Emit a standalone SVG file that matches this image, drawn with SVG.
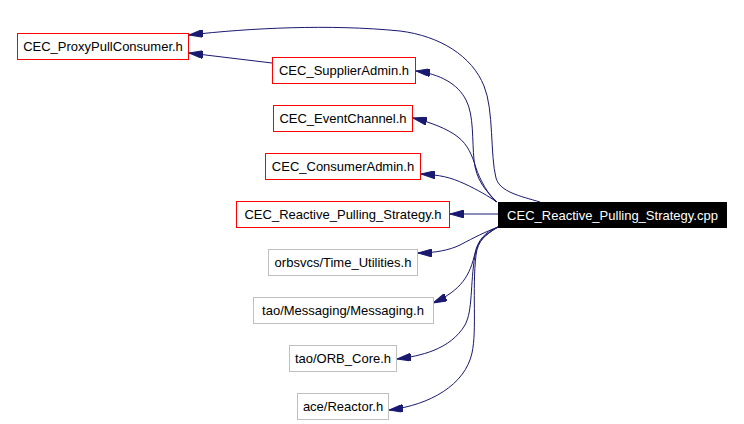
<svg xmlns="http://www.w3.org/2000/svg" width="744" height="424" viewBox="0 0 744 424">
<style>
.box{fill:#fff;stroke-width:1}
.red{stroke:#ff0000}
.grey{stroke:#bfbfbf}
.main{fill:#000;stroke:#000}
text{font-family:"Liberation Sans",Arial,sans-serif;font-size:13px;text-anchor:middle;fill:#000}
.wt{fill:#fff}
.e{fill:none;stroke:#191970;stroke-width:1;marker-end:url(#ah)}
</style>
<defs>
<marker id="ah" viewBox="0 0 14 8" refX="14" refY="4" markerWidth="14" markerHeight="8" markerUnits="userSpaceOnUse" orient="auto">
<path d="M0,0 L14,4 L0,8 z" fill="#191970" stroke="#191970"/>
</marker>
</defs>
<rect width="744" height="424" fill="#fff"/>
<g id="connectors">
<path class="e" d="M540,202 C520,196 500,192 496,178 C490,155 494,110 484,86 C472,56 440,36 400,31 C330,24 250,28 189,35"/>
<path class="e" d="M272,63 L189,53"/>
<path class="e" d="M497,202 C485,190 476,180 474,160 C472,140 474,115 466,100 C458,84 440,74 416,71"/>
<path class="e" d="M496,202 C488,194 480,180 476,168 C472,155 468,145 458,137 C448,129 430,122 413,118"/>
<path class="e" d="M497,202 C488,196 478,190 465,184 C450,177 440,175 421,174"/>
<path class="e" d="M498,214 L450,214"/>
<path class="e" d="M498,227 C485,232 475,237 460,245 C450,250 435,253 418,253"/>
<path class="e" d="M498,227 C485,232 478,240 475,253 C470,275 462,290 433,303"/>
<path class="e" d="M498,227 C485,235 478,240 475,255 C470,285 473,310 465,325 C450,350 420,356 397,359"/>
<path class="e" d="M498,227 C485,235 478,240 476,255 C472,290 477,330 472,353 C465,385 430,405 389,410"/>
</g>
<g id="n_main"><rect class="main" x="498.5" y="202.5" width="228" height="25"/><text class="wt" x="612.5" y="219.5">CEC_Reactive_Pulling_Strategy.cpp</text></g>
<g id="n_proxy"><rect class="box red" x="17.5" y="33.5" width="171" height="26"/><text x="103" y="51">CEC_ProxyPullConsumer.h</text></g>
<g id="n_supplier"><rect class="box red" x="272.5" y="57.5" width="143" height="26"/><text x="344" y="75">CEC_SupplierAdmin.h</text></g>
<g id="n_event"><rect class="box red" x="273.5" y="105.5" width="139" height="26"/><text x="343" y="123">CEC_EventChannel.h</text></g>
<g id="n_consumer"><rect class="box red" x="265.5" y="153.5" width="155" height="26"/><text x="343" y="171">CEC_ConsumerAdmin.h</text></g>
<g id="n_rps"><rect class="box red" x="236.5" y="201.5" width="213" height="26"/><text x="343" y="219">CEC_Reactive_Pulling_Strategy.h</text></g>
<g id="n_time"><rect class="box grey" x="268.5" y="249.5" width="149" height="26"/><text x="343" y="267">orbsvcs/Time_Utilities.h</text></g>
<g id="n_msg"><rect class="box grey" x="253.5" y="297.5" width="180" height="26"/><text x="343" y="315">tao/Messaging/Messaging.h</text></g>
<g id="n_orb"><rect class="box grey" x="289.5" y="345.5" width="107" height="26"/><text x="343" y="363">tao/ORB_Core.h</text></g>
<g id="n_reactor"><rect class="box grey" x="297.5" y="393.5" width="91" height="26"/><text x="343" y="411">ace/Reactor.h</text></g>
</svg>
